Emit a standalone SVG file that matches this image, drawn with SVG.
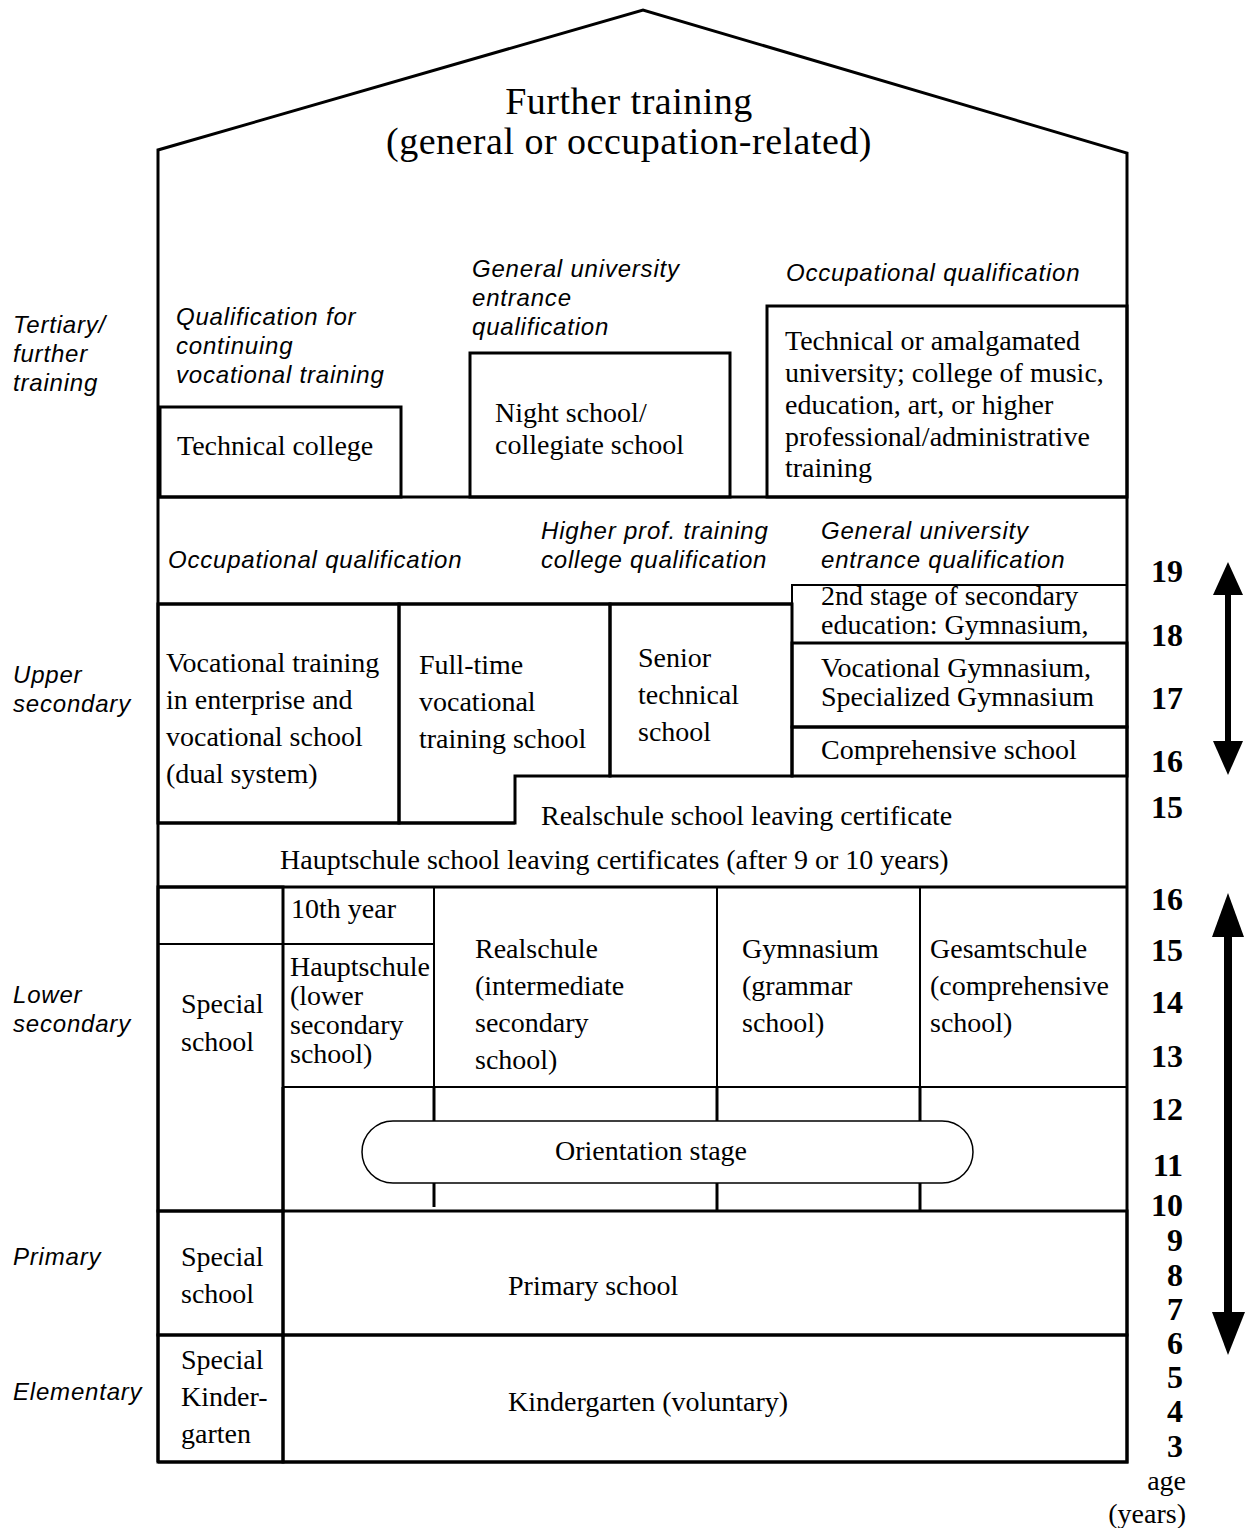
<svg xmlns="http://www.w3.org/2000/svg" width="1245" height="1528" viewBox="0 0 1245 1528">
  <defs>
    <style>
      .ln { stroke:#000; stroke-width:3; fill:none; stroke-linejoin:miter; }
      .bx { stroke:#000; stroke-width:3; fill:none; }
      .thin { stroke-width:2; }
      .t { font-family:"Liberation Serif","Times New Roman",serif; font-size:28px; fill:#000; }
      .i { font-family:"Liberation Sans",Arial,sans-serif; font-style:italic; font-size:24px; letter-spacing:0.8px; fill:#000; }
      .age { font-family:"Liberation Serif","Times New Roman",serif; font-weight:bold; font-size:32px; fill:#000; text-anchor:end; }
      .title { font-family:"Liberation Serif","Times New Roman",serif; font-size:38px; letter-spacing:0.5px; fill:#000; text-anchor:middle; }
      .arrow { fill:#000; stroke:none; }
    </style>
  </defs>
  <rect width="1245" height="1528" fill="#fff"/>

  <!-- house outline: roof and walls -->
  <g id="house">
    <polyline class="ln" points="158,1462 158,150 643,10 1127,153 1127,1462 158,1462"/>
    <text class="title" x="629" y="114">Further training</text>
    <text class="title" x="629" y="154">(general or occupation-related)</text>
  </g>

  <!-- stage labels on the left -->
  <g id="stage-labels">
    <text class="i" x="13" y="333">Tertiary/</text>
    <text class="i" x="13" y="362">further</text>
    <text class="i" x="13" y="391">training</text>
    <text class="i" x="13" y="683">Upper</text>
    <text class="i" x="13" y="712">secondary</text>
    <text class="i" x="13" y="1003">Lower</text>
    <text class="i" x="13" y="1032">secondary</text>
    <text class="i" x="13" y="1265">Primary</text>
    <text class="i" x="13" y="1400">Elementary</text>
  </g>

  <!-- tertiary level -->
  <g id="qual-continuing">
    <text class="i" x="176" y="325">Qualification for</text>
    <text class="i" x="176" y="354">continuing</text>
    <text class="i" x="176" y="383">vocational training</text>
  </g>
  <g id="technical-college">
    <rect class="bx" x="160" y="407" width="241" height="90"/>
    <text class="t" x="177" y="455">Technical college</text>
  </g>
  <g id="qual-university-top">
    <text class="i" x="472" y="277">General university</text>
    <text class="i" x="472" y="306">entrance</text>
    <text class="i" x="472" y="335">qualification</text>
  </g>
  <g id="night-school">
    <rect class="bx" x="470" y="353" width="260" height="144"/>
    <text class="t" x="495" y="422">Night school/</text>
    <text class="t" x="495" y="454">collegiate school</text>
  </g>
  <g id="qual-occupational-top">
    <text class="i" x="786" y="281">Occupational qualification</text>
  </g>
  <g id="university">
    <rect class="bx" x="767" y="306" width="360" height="191"/>
    <text class="t" x="785" y="350">Technical or amalgamated</text>
    <text class="t" x="785" y="382">university; college of music,</text>
    <text class="t" x="785" y="414">education, art, or higher</text>
    <text class="t" x="785" y="446">professional/administrative</text>
    <text class="t" x="785" y="477">training</text>
  </g>

  <!-- qualifications band -->
  <g id="qualification-band">
    <line class="ln" x1="158" y1="497" x2="1127" y2="497"/>
    <polyline class="ln" points="158,604 792,604"/>
    <text class="i" x="168" y="568">Occupational qualification</text>
    <text class="i" x="541" y="539">Higher prof. training</text>
    <text class="i" x="541" y="568">college qualification</text>
    <text class="i" x="821" y="539">General university</text>
    <text class="i" x="821" y="568">entrance qualification</text>
  </g>

  <!-- upper secondary -->
  <g id="dual-system">
    <rect class="bx" x="158" y="604" width="241" height="219"/>
    <text class="t" x="166" y="672">Vocational training</text>
    <text class="t" x="166" y="709">in enterprise and</text>
    <text class="t" x="166" y="746">vocational school</text>
    <text class="t" x="166" y="783">(dual system)</text>
  </g>
  <g id="fulltime-vocational">
    <path class="bx" d="M399,604 H610 V776 H515 V823 H399 Z"/>
    <text class="t" x="419" y="674">Full-time</text>
    <text class="t" x="419" y="711">vocational</text>
    <text class="t" x="419" y="748">training school</text>
  </g>
  <g id="senior-technical">
    <rect class="bx" x="610" y="604" width="182" height="172"/>
    <text class="t" x="638" y="667">Senior</text>
    <text class="t" x="638" y="704">technical</text>
    <text class="t" x="638" y="741">school</text>
  </g>
  <g id="gymnasium-upper">
    <rect class="bx thin" x="792" y="585" width="335" height="58"/>
    <text class="t" x="821" y="605">2nd stage of secondary</text>
    <text class="t" x="821" y="634">education: Gymnasium,</text>
  </g>
  <g id="vocational-gymnasium">
    <rect class="bx" x="792" y="643" width="335" height="84"/>
    <text class="t" x="821" y="677">Vocational Gymnasium,</text>
    <text class="t" x="821" y="706">Specialized Gymnasium</text>
  </g>
  <g id="comprehensive-upper">
    <rect class="bx" x="792" y="727" width="335" height="49"/>
    <text class="t" x="821" y="759">Comprehensive school</text>
  </g>
  <g id="realschule-certificate">
    <text class="t" x="541" y="825">Realschule school leaving certificate</text>
  </g>
  <g id="hauptschule-certificate">
    <line class="ln" x1="158" y1="823" x2="515" y2="823"/>
    <text class="t" x="280" y="869">Hauptschule school leaving certificates (after 9 or 10 years)</text>
  </g>

  <!-- lower secondary -->
  <g id="special-school-lower">
    <rect class="bx" x="158" y="887" width="125" height="324"/>
    <line class="ln thin" x1="158" y1="944" x2="283" y2="944"/>
    <text class="t" x="181" y="1013">Special</text>
    <text class="t" x="181" y="1051">school</text>
  </g>
  <g id="tenth-year">
    <rect class="bx thin" x="283" y="887" width="151" height="57"/>
    <text class="t" x="291" y="918">10th year</text>
  </g>
  <g id="hauptschule">
    <rect class="bx thin" x="283" y="944" width="151" height="143"/>
    <text class="t" x="290" y="976">Hauptschule</text>
    <text class="t" x="290" y="1005">(lower</text>
    <text class="t" x="290" y="1034">secondary</text>
    <text class="t" x="290" y="1063">school)</text>
  </g>
  <g id="realschule">
    <rect class="bx thin" x="434" y="887" width="283" height="200"/>
    <text class="t" x="475" y="958">Realschule</text>
    <text class="t" x="475" y="995">(intermediate</text>
    <text class="t" x="475" y="1032">secondary</text>
    <text class="t" x="475" y="1069">school)</text>
  </g>
  <g id="gymnasium">
    <rect class="bx thin" x="717" y="887" width="203" height="200"/>
    <text class="t" x="742" y="958">Gymnasium</text>
    <text class="t" x="742" y="995">(grammar</text>
    <text class="t" x="742" y="1032">school)</text>
  </g>
  <g id="gesamtschule">
    <rect class="bx thin" x="920" y="887" width="207" height="200"/>
    <text class="t" x="930" y="958">Gesamtschule</text>
    <text class="t" x="930" y="995">(comprehensive</text>
    <text class="t" x="930" y="1032">school)</text>
  </g>
  <g id="orientation-stage">
    <line class="ln" x1="158" y1="887" x2="1127" y2="887"/>
    <line class="ln" x1="283" y1="1087" x2="283" y2="1211"/>
    <line class="ln" x1="434" y1="1087" x2="434" y2="1207"/>
    <line class="ln" x1="717" y1="1087" x2="717" y2="1211"/>
    <line class="ln" x1="920" y1="1087" x2="920" y2="1211"/>
    <rect x="362" y="1121" width="611" height="62" rx="31" ry="31" fill="#fff" stroke="#000" stroke-width="1.5"/>
    <text class="t" x="651" y="1160" text-anchor="middle">Orientation stage</text>
  </g>

  <!-- primary -->
  <g id="special-school-primary">
    <rect class="bx" x="158" y="1211" width="125" height="124"/>
    <text class="t" x="181" y="1266">Special</text>
    <text class="t" x="181" y="1303">school</text>
  </g>
  <g id="primary-school">
    <rect class="bx" x="283" y="1211" width="844" height="124"/>
    <text class="t" x="508" y="1295">Primary school</text>
  </g>

  <!-- elementary -->
  <g id="special-kindergarten">
    <rect class="bx" x="158" y="1335" width="125" height="127"/>
    <text class="t" x="181" y="1369">Special</text>
    <text class="t" x="181" y="1406">Kinder-</text>
    <text class="t" x="181" y="1443">garten</text>
  </g>
  <g id="kindergarten">
    <rect class="bx" x="283" y="1335" width="844" height="127"/>
    <text class="t" x="508" y="1411">Kindergarten (voluntary)</text>
  </g>

  <!-- age scale -->
  <g id="ages">
    <text class="age" x="1183" y="582">19</text>
    <text class="age" x="1183" y="646">18</text>
    <text class="age" x="1183" y="709">17</text>
    <text class="age" x="1183" y="772">16</text>
    <text class="age" x="1183" y="818">15</text>
    <text class="age" x="1183" y="910">16</text>
    <text class="age" x="1183" y="961">15</text>
    <text class="age" x="1183" y="1013">14</text>
    <text class="age" x="1183" y="1067">13</text>
    <text class="age" x="1183" y="1120">12</text>
    <text class="age" x="1183" y="1176">11</text>
    <text class="age" x="1183" y="1216">10</text>
    <text class="age" x="1183" y="1251">9</text>
    <text class="age" x="1183" y="1286">8</text>
    <text class="age" x="1183" y="1320">7</text>
    <text class="age" x="1183" y="1354">6</text>
    <text class="age" x="1183" y="1388">5</text>
    <text class="age" x="1183" y="1422">4</text>
    <text class="age" x="1183" y="1457">3</text>
    <text class="t" x="1186" y="1490" text-anchor="end">age</text>
    <text class="t" x="1186" y="1523" text-anchor="end">(years)</text>
  </g>

  <!-- double-headed age arrows -->
  <g id="connectors">
    <rect class="arrow" x="1225" y="592" width="6" height="152"/>
    <polygon class="arrow" points="1228,562 1243,595 1213,595"/>
    <polygon class="arrow" points="1213,741 1243,741 1228,775"/>
    <rect class="arrow" x="1224" y="934" width="8" height="380"/>
    <polygon class="arrow" points="1228,893 1244,937 1212,937"/>
    <polygon class="arrow" points="1212,1312 1245,1312 1228,1355"/>
  </g>
</svg>
